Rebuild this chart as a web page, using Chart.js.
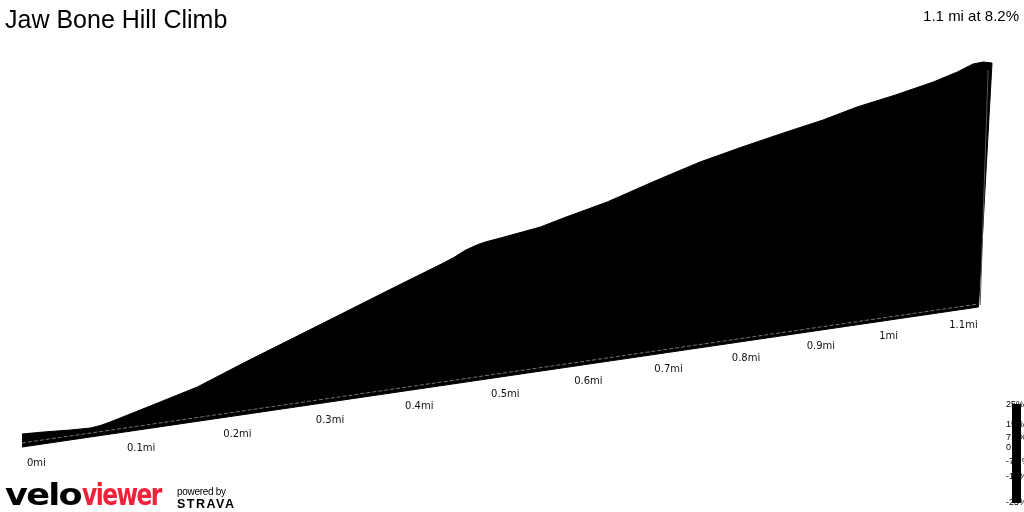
<!DOCTYPE html>
<html>
<head>
  <title>Jaw Bone Hill Climb</title>
  <script src="https://cdn.jsdelivr.net/npm/chart.js"></script>
  <style>
    body { margin: 0; background: #fff; overflow: hidden; }
    #wrap { position: relative; width: 1024px; height: 512px; }
    #profile { position: absolute; left: 0; top: 0; }
    .txt { position: absolute; white-space: nowrap; }
    #title { left: 5px; top: 7px; font: 25px/25px "Liberation Sans", Arial, sans-serif; color: #000; }
    #summary { right: 5px; top: 8px; font: 15px/15px "Liberation Sans", Arial, sans-serif; color: #000; }
    #logo { left: 5px; top: 480px; font: bold 30px/30px "DejaVu Sans", sans-serif; }
    #logo span { display: inline-block; transform-origin: 0 50%; }
    #logo .velo { color: #000; letter-spacing: -1.5px; transform: scaleX(1.17); margin-right: 12px; }
    #logo .viewer { color: #f1213b; letter-spacing: -2px; transform: scaleX(0.78); }
    #powered { left: 177px; top: 487px; font: 10px/10px "Liberation Sans", Arial, sans-serif; letter-spacing: -0.3px; color: #000; }
    #strava { left: 177px; top: 498px; font: bold 12.5px/12.5px "Liberation Sans", Arial, sans-serif; letter-spacing: 1.5px; color: #000; }
    .grad { left: 1006px; font: 9px/9px "Liberation Sans", Arial, sans-serif; color: #000; }
    #gradBar { position: absolute; left: 1012px; top: 404px; width: 9px; height: 99px; background: #000; }
  </style>
</head>
<body>
  <div id="wrap">
    <canvas id="profile" width="1024" height="512"></canvas>
    <div class="txt" id="title">Jaw Bone Hill Climb</div>
    <div class="txt" id="summary">1.1 mi at 8.2%</div>
    <div class="txt" id="logo"><span class="velo">velo</span><span class="viewer">viewer</span></div>
    <div class="txt" id="powered">powered by</div>
    <div class="txt" id="strava">STRAVA</div>
    <div id="gradLabels"></div>
    <div id="gradBar"></div>
  </div>

  <script>
    // distance along the climb (miles) and drawn profile height
    const profileMiles = [0, 0.021, 0.048, 0.068, 0.078, 0.088, 0.129, 0.178, 0.227, 0.281, 0.336, 0.392, 0.45,
      0.463, 0.475, 0.489, 0.499, 0.517, 0.565, 0.593, 0.647, 0.71, 0.765, 0.82, 0.875, 0.929, 0.976, 1.03,
      1.084, 1.119, 1.142, 1.157, 1.17];
    const profileHeight = [13, 15, 17, 19, 21.5, 25, 41, 60, 84, 109, 134, 159, 184,
      190, 196.5, 202, 205, 209, 220, 229, 245, 267, 285, 300, 314, 327, 340, 352,
      365, 375, 383, 385, 384];

    // the base the profile stands on
    const floorMiles = [0, 1.15];
    const floorHeight = [0, 140];
    const edgeHeight = [4, 143];

    // right side edge of the slab
    const sideMiles = [1.1525, 1.1643];
    const sideHeight = [142, 377];

    const tickMiles = [0, 0.1, 0.2, 0.3, 0.4, 0.5, 0.6, 0.7, 0.8, 0.9, 1, 1.1];
    const gradientLabels = ["25%", "15%", "7.5%", "0", "-7.5%", "-15%", "-25%"];
    const gradientTops = [400, 420, 433, 443, 457, 472, 498];

    document.addEventListener("DOMContentLoaded", () => {
      const gl = document.getElementById("gradLabels");
      gradientLabels.forEach((t, i) => {
        const el = document.createElement("div");
        el.className = "txt grad";
        el.style.top = gradientTops[i] + "px";
        el.textContent = t;
        gl.appendChild(el);
      });

      // x scale with depth: spacing shrinks with distance
      class PerspectiveScale extends Chart.LinearScale {
        _g(v) {
          const c = this.options.depth;
          const t = v - this.min;
          return t / (1 + c * t);
        }
        getPixelForValue(value) {
          return this.left + this.width * this._g(value) / this._g(this.max);
        }
        getValueForPixel(pixel) {
          const c = this.options.depth;
          const g = (pixel - this.left) / this.width * this._g(this.max);
          return this.min + g / (1 - c * g);
        }
      }
      PerspectiveScale.id = "perspective";
      PerspectiveScale.defaults = Chart.LinearScale.defaults;
      Chart.register(PerspectiveScale);

      const shape = profileMiles.map((d, i) => ({ x: d, y: profileHeight[i] }));
      shape.push({ x: floorMiles[1], y: floorHeight[1] });
      shape.push({ x: floorMiles[0], y: floorHeight[0] });

      const tickLabels = {
        id: "tickLabels",
        afterDatasetsDraw(chart) {
          const xs = chart.scales.x, ys = chart.scales.y, ctx = chart.ctx;
          const x0 = xs.getPixelForValue(floorMiles[0]), x1 = xs.getPixelForValue(floorMiles[1]);
          const y0 = ys.getPixelForValue(floorHeight[0]), y1 = ys.getPixelForValue(floorHeight[1]);
          ctx.save();
          ctx.font = '10px "DejaVu Sans", Verdana, sans-serif';
          ctx.fillStyle = "#111";
          ctx.textAlign = "left";
          ctx.textBaseline = "alphabetic";
          tickMiles.forEach(d => {
            const x = xs.getPixelForValue(d);
            const f = (x - x0) / (x1 - x0);
            const y = y0 + (y1 - y0) * f;
            ctx.fillText(d + "mi", x + 5, y + 19 - 3 * f);
          });
          ctx.restore();
        }
      };

      new Chart(document.getElementById("profile").getContext("2d"), {
        type: "scatter",
        data: {
          datasets: [
            {
              data: shape,
              showLine: true,
              fill: "shape",
              backgroundColor: "#000",
              borderColor: "#000",
              borderWidth: 1,
              pointRadius: 0,
              tension: 0,
              clip: false,
              order: 2,
            },
            {
              data: floorMiles.map((d, i) => ({ x: d, y: edgeHeight[i] })),
              showLine: true,
              borderColor: "rgba(255,255,255,0.45)",
              borderWidth: 1,
              borderDash: [4, 2],
              pointRadius: 0,
              clip: false,
              order: 1,
            },
            {
              data: sideMiles.map((d, i) => ({ x: d, y: sideHeight[i] })),
              showLine: true,
              borderColor: "#555",
              borderWidth: 1,
              pointRadius: 0,
              clip: false,
              order: 1,
            },
          ],
        },
        options: {
          responsive: false,
          animation: false,
          layout: { padding: { left: 22, right: 32, top: 0, bottom: 0 } },
          plugins: { legend: { display: false }, tooltip: { enabled: false } },
          scales: {
            x: { type: "perspective", min: 0, max: 1.17, depth: 0.196, display: false },
            y: { type: "linear", min: -65, max: 447, display: false },
          },
        },
        plugins: [tickLabels],
      });
    });
  </script>
</body>
</html>
